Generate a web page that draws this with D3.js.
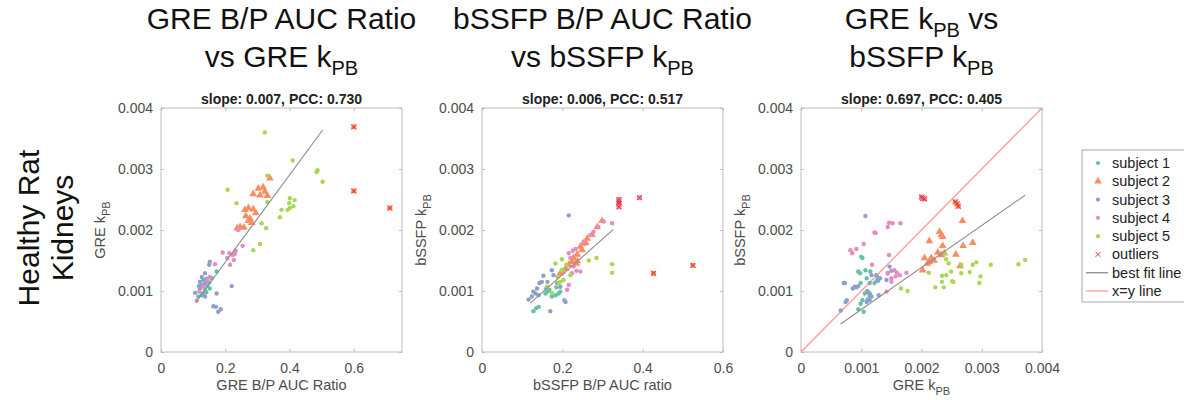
<!DOCTYPE html>
<html>
<head>
<meta charset="utf-8">
<script src="https://cdn.jsdelivr.net/npm/d3@7"></script>
<style>
  body { margin: 0; background: #fff; }
  text { font-family: "Liberation Sans", Arial, Helvetica, sans-serif; }
</style>
</head>
<body>
<svg id="chart" width="1184" height="400"></svg>
<script>
// ---- data ----
const subjectNames = ["subject 1", "subject 2", "subject 3", "subject 4", "subject 5"];
const subjectColors = ["#66c2a5", "#fc8d62", "#8da0cb", "#e78ac3", "#a6d854"];

// panel 1: GRE B/P AUC ratio vs GRE kPB
const greRatioS1 = [[0.173,0.00132],[0.158,0.00121],[0.150,0.00114],[0.144,0.00108],[0.137,0.00102],[0.127,0.00093],[0.116,0.00091],[0.141,0.00098],[0.152,0.00104]];
const greRatioS2 = [[0.339,0.00285],[0.303,0.00268],[0.318,0.00270],[0.323,0.00263],[0.287,0.00259],[0.308,0.00257],[0.331,0.00256],[0.261,0.00233],[0.272,0.00236],[0.287,0.00234],[0.295,0.00228],[0.264,0.00223],[0.277,0.00219],[0.272,0.00215],[0.282,0.00212],[0.246,0.00205],[0.237,0.00203],[0.258,0.00204]];
const greRatioS3 = [[0.152,0.00148],[0.150,0.00143],[0.137,0.00129],[0.127,0.00123],[0.132,0.00118],[0.121,0.00115],[0.137,0.00113],[0.127,0.00110],[0.121,0.00104],[0.106,0.00097],[0.130,0.00096],[0.137,0.00091],[0.173,0.00096],[0.220,0.00108],[0.163,0.00075],[0.171,0.00074],[0.186,0.00070],[0.178,0.00066],[0.142,0.00120],[0.118,0.00108]];
const greRatioS4 = [[0.240,0.00200],[0.254,0.00174],[0.192,0.00163],[0.213,0.00162],[0.223,0.00159],[0.230,0.00161],[0.206,0.00154],[0.227,0.00151],[0.215,0.00143],[0.168,0.00144],[0.152,0.00123],[0.144,0.00118],[0.119,0.00099],[0.111,0.00084],[0.132,0.00107],[0.232,0.00166]];
const greRatioS5 = [[0.323,0.00360],[0.410,0.00314],[0.331,0.00289],[0.484,0.00295],[0.487,0.00298],[0.503,0.00279],[0.207,0.00266],[0.235,0.00244],[0.401,0.00252],[0.416,0.00249],[0.399,0.00244],[0.412,0.00239],[0.401,0.00236],[0.394,0.00233],[0.375,0.00233],[0.370,0.00221],[0.331,0.00246],[0.313,0.00211],[0.327,0.00203],[0.308,0.00177],[0.287,0.00167]];
const greRatioOutliers = [[0.600,0.00369,1],[0.600,0.00264,1],[0.712,0.00236,1]];
const greRatioFit = [[0.109,0.00082],[0.503,0.00364]];

// panel 2: bSSFP B/P AUC ratio vs bSSFP kPB
const ssfpRatioS1 = [[0.128,0.00067],[0.135,0.00072],[0.141,0.00074],[0.158,0.00096],[0.163,0.00099],[0.168,0.00102],[0.160,0.00104],[0.174,0.00091],[0.183,0.00093],[0.191,0.00096],[0.195,0.00099],[0.185,0.00106]];
const ssfpRatioS2 = [[0.299,0.00215],[0.287,0.00205],[0.274,0.00192],[0.262,0.00186],[0.253,0.00178],[0.245,0.00173],[0.249,0.00167],[0.237,0.00160],[0.228,0.00154],[0.224,0.00148],[0.237,0.00149],[0.216,0.00143],[0.208,0.00137],[0.199,0.00132],[0.258,0.00179],[0.235,0.00145],[0.195,0.00129]];
const ssfpRatioS3 = [[0.216,0.00224],[0.153,0.00125],[0.174,0.00134],[0.178,0.00126],[0.143,0.00113],[0.149,0.00115],[0.137,0.00104],[0.133,0.00096],[0.124,0.00091],[0.116,0.00086],[0.128,0.00099],[0.141,0.00093],[0.170,0.00067],[0.205,0.00085],[0.208,0.00082],[0.187,0.00113],[0.195,0.00107],[0.163,0.00115]];
const ssfpRatioS4 = [[0.324,0.00211],[0.303,0.00214],[0.289,0.00205],[0.278,0.00197],[0.270,0.00192],[0.253,0.00181],[0.233,0.00169],[0.216,0.00162],[0.245,0.00132],[0.224,0.00129],[0.212,0.00102],[0.220,0.00154],[0.228,0.00140],[0.235,0.00133],[0.216,0.00110],[0.226,0.00166]];
const ssfpRatioS5 = [[0.183,0.00145],[0.285,0.00154],[0.266,0.00150],[0.324,0.00144],[0.324,0.00130],[0.210,0.00143],[0.199,0.00152],[0.199,0.00134],[0.188,0.00123],[0.195,0.00115],[0.191,0.00113],[0.203,0.00118],[0.162,0.00107],[0.174,0.00097],[0.220,0.00126]];
const ssfpRatioOutliers = [[0.341,0.00250,3],[0.341,0.00246,3],[0.341,0.00243,3],[0.341,0.00238,3],[0.392,0.00253,3],[0.427,0.00129,1],[0.525,0.00142,1]];
const ssfpRatioFit = [[0.120,0.00080],[0.327,0.00201]];

// panel 3: GRE kPB vs bSSFP kPB
const kpbS1 = [[0.00100,0.00156],[0.00102,0.00154],[0.00095,0.00132],[0.00107,0.00134],[0.00115,0.00132],[0.00109,0.00121],[0.00098,0.00129],[0.00099,0.00113],[0.00106,0.00096],[0.00110,0.00100],[0.00113,0.00097],[0.00114,0.00092],[0.00102,0.00085],[0.00099,0.00079],[0.00095,0.00070],[0.00104,0.00066],[0.00122,0.00113],[0.00126,0.00117],[0.00128,0.00121]];
const kpbS2 = [[0.00268,0.00215],[0.00230,0.00197],[0.00233,0.00192],[0.00235,0.00189],[0.00285,0.00179],[0.00213,0.00182],[0.00235,0.00174],[0.00269,0.00174],[0.00227,0.00163],[0.00233,0.00159],[0.00238,0.00162],[0.00257,0.00160],[0.00216,0.00154],[0.00221,0.00150],[0.00213,0.00148],[0.00205,0.00154],[0.00202,0.00134],[0.00210,0.00145],[0.00264,0.00141]];
const kpbS3 = [[0.00073,0.00113],[0.00076,0.00085],[0.00074,0.00082],[0.00066,0.00068],[0.00089,0.00107],[0.00092,0.00106],[0.00095,0.00108],[0.00086,0.00104],[0.00114,0.00113],[0.00117,0.00126],[0.00125,0.00126],[0.00131,0.00121],[0.00128,0.00117],[0.00110,0.00099],[0.00114,0.00096],[0.00117,0.00091],[0.00111,0.00086],[0.00114,0.00085],[0.00109,0.00082],[0.00129,0.00093],[0.00142,0.00118],[0.00144,0.00129],[0.00150,0.00133],[0.00147,0.00140],[0.00107,0.00223],[0.00071,0.00113]];
const kpbS4 = [[0.00082,0.00167],[0.00085,0.00162],[0.00092,0.00169],[0.00104,0.00177],[0.00146,0.00212],[0.00152,0.00211],[0.00165,0.00211],[0.00144,0.00205],[0.00122,0.00196],[0.00124,0.00195],[0.00146,0.00159],[0.00118,0.00143],[0.00144,0.00129],[0.00155,0.00134],[0.00159,0.00130],[0.00164,0.00126],[0.00175,0.00130],[0.00150,0.00121],[0.00157,0.00124],[0.00150,0.00115],[0.00142,0.00099]];
const kpbS5 = [[0.00238,0.00162],[0.00241,0.00152],[0.00212,0.00130],[0.00245,0.00145],[0.00234,0.00125],[0.00241,0.00126],[0.00249,0.00132],[0.00234,0.00115],[0.00251,0.00116],[0.00253,0.00115],[0.00223,0.00106],[0.00237,0.00106],[0.00266,0.00143],[0.00266,0.00129],[0.00280,0.00131],[0.00285,0.00143],[0.00291,0.00147],[0.00298,0.00124],[0.00296,0.00113],[0.00315,0.00143],[0.00361,0.00144],[0.00372,0.00151],[0.00166,0.00104],[0.00177,0.00100]];
const kpbOutliers = [[0.00200,0.00254,3],[0.00202,0.00252,3],[0.00205,0.00251,3],[0.00256,0.00246,1],[0.00259,0.00243,1],[0.00261,0.00239,1]];
const kpbFit = [[0.000656,0.00046],[0.00372,0.00257]];
const identityLine = [[0,0],[0.004,0.004]];

const ratioTicks = [0, 0.2, 0.4, 0.6];
const ratioTickLabels = ["0", "0.2", "0.4", "0.6"];
const kpbTicks = [0, 0.001, 0.002, 0.003, 0.004];
const kpbTickLabels = ["0", "0.001", "0.002", "0.003", "0.004"];
const subtitles = ["slope: 0.007, PCC: 0.730", "slope: 0.006, PCC: 0.517", "slope: 0.697, PCC: 0.405"];
const legendLabels = ["subject 1", "subject 2", "subject 3", "subject 4", "subject 5", "outliers", "best fit line", "x=y line"];

// ---- layout ----
const svg = d3.select("#chart");
const boxW = 241, boxH = 244, boxTop = 108;
const tickColor = "#4d4d4d";
const fitColor = "#8c8c8c", idColor = "#ff9a9a", outlierColor = "#f0302a";

const panels = [
  { left: 161, xMax: 0.75, xTicks: ratioTicks, xLabels: ratioTickLabels,
    subjects: [greRatioS1, greRatioS2, greRatioS3, greRatioS4, greRatioS5],
    outliers: greRatioOutliers, fit: greRatioFit, identity: null,
    title: [[["GRE B/P AUC Ratio", false]], [["vs GRE k", false], ["PB", true]]],
    xTitle: [["GRE B/P AUC Ratio", false]], yTitle: [["GRE k", false], ["PB", true]] },
  { left: 482, xMax: 0.6, xTicks: ratioTicks, xLabels: ratioTickLabels,
    subjects: [ssfpRatioS1, ssfpRatioS2, ssfpRatioS3, ssfpRatioS4, ssfpRatioS5],
    outliers: ssfpRatioOutliers, fit: ssfpRatioFit, identity: null,
    title: [[["bSSFP B/P AUC Ratio", false]], [["vs bSSFP k", false], ["PB", true]]],
    xTitle: [["bSSFP B/P AUC ratio", false]], yTitle: [["bSSFP k", false], ["PB", true]] },
  { left: 801, xMax: 0.004, xTicks: kpbTicks, xLabels: kpbTickLabels,
    subjects: [kpbS1, kpbS2, kpbS3, kpbS4, kpbS5],
    outliers: kpbOutliers, fit: kpbFit, identity: identityLine,
    title: [[["GRE k", false], ["PB", true], [" vs", false]], [["bSSFP k", false], ["PB", true]]],
    xTitle: [["GRE k", false], ["PB", true]], yTitle: [["bSSFP k", false], ["PB", true]] }
];

// writes text with subscript parts
function richText(sel, parts, subSize, subShift) {
  let down = false;
  parts.forEach(([str, sub]) => {
    const t = sel.append("tspan").text(str);
    if (sub && !down) { t.attr("dy", subShift).attr("font-size", subSize); down = true; }
    else if (!sub && down) { t.attr("dy", -subShift); down = false; }
  });
}

const tri = d3.symbol().type(d3.symbolTriangle).size(26);

panels.forEach((p, i) => {
  const x = d3.scaleLinear().domain([0, p.xMax]).range([0, boxW]);
  const y = d3.scaleLinear().domain([0, 0.004]).range([boxH, 0]);
  const g = svg.append("g").attr("transform", `translate(${p.left},${boxTop})`);
  const cx = p.left + boxW / 2;

  // titles
  p.title.forEach((line, li) => {
    const t = svg.append("text").attr("x", cx).attr("y", 29 + li * 38)
      .attr("text-anchor", "middle").attr("font-size", 30).attr("fill", "#111");
    richText(t, line, 20, 8);
  });
  svg.append("text").attr("x", cx).attr("y", 104).attr("text-anchor", "middle")
    .attr("font-size", 14).attr("font-weight", "bold").attr("fill", "#222").text(subtitles[i]);

  // axes (MATLAB-like inward ticks on all sides)
  const ax = (gen, tr) => {
    const a = g.append("g").attr("transform", tr).call(gen);
    a.select(".domain").remove();
    a.selectAll("line").attr("stroke", "#bdbdbd");
    a.selectAll("text").attr("fill", tickColor).attr("font-size", 14)
      .attr("font-family", "'Liberation Sans', Arial, sans-serif");
    return a;
  };
  ax(d3.axisBottom(x).tickValues(p.xTicks).tickFormat((d, k) => p.xLabels[k])
      .tickSizeInner(-3).tickSizeOuter(0).tickPadding(11), `translate(0,${boxH})`);
  ax(d3.axisTop(x).tickValues(p.xTicks).tickFormat("").tickSizeInner(-3).tickSizeOuter(0), "translate(0,0)");
  ax(d3.axisLeft(y).tickValues(kpbTicks).tickFormat((d, k) => kpbTickLabels[k])
      .tickSizeInner(-3).tickSizeOuter(0).tickPadding(8), "translate(0,0)");
  ax(d3.axisRight(y).tickValues(kpbTicks).tickFormat("").tickSizeInner(-3).tickSizeOuter(0), `translate(${boxW},0)`);

  g.append("rect").attr("width", boxW).attr("height", boxH)
    .attr("fill", "none").attr("stroke", "#bdbdbd").attr("stroke-width", 1);

  // axis titles
  const xt = svg.append("text").attr("x", cx).attr("y", 390).attr("text-anchor", "middle")
    .attr("font-size", 14.5).attr("fill", tickColor);
  richText(xt, p.xTitle, 11, 5);
  const yt = svg.append("text").attr("transform", `translate(${p.left - 56},${boxTop + boxH / 2}) rotate(-90)`)
    .attr("text-anchor", "middle").attr("font-size", 14.5).attr("fill", tickColor);
  richText(yt, p.yTitle, 11, 5);

  const line = d3.line().x(d => x(d[0])).y(d => y(d[1]));
  if (p.identity) {
    g.append("path").datum(p.identity).attr("d", line).attr("fill", "none")
      .attr("stroke", idColor).attr("stroke-width", 1.3);
  }

  // points
  p.subjects.forEach((pts, s) => {
    const layer = g.append("g").attr("fill", subjectColors[s]);
    if (s === 1) {
      layer.selectAll("path").data(pts).join("path")
        .attr("transform", d => `translate(${x(d[0])},${y(d[1])})`).attr("d", tri);
    } else {
      layer.selectAll("circle").data(pts).join("circle")
        .attr("cx", d => x(d[0])).attr("cy", d => y(d[1])).attr("r", 2.2);
    }
  });

  g.append("path").datum(p.fit).attr("d", line).attr("fill", "none")
    .attr("stroke", fitColor).attr("stroke-width", 1.1);

  // outliers: subject marker with a red cross over it
  const og = g.append("g");
  og.selectAll("rect").data(p.outliers).join("rect")
    .attr("x", d => x(d[0]) - 2.5).attr("y", d => y(d[1]) - 2.5)
    .attr("width", 5).attr("height", 5).attr("fill", d => subjectColors[d[2]]);
  og.selectAll("path").data(p.outliers).join("path")
    .attr("d", d => {
      const px = x(d[0]), py = y(d[1]), r = 2.5;
      return `M${px - r},${py - r}L${px + r},${py + r}M${px - r},${py + r}L${px + r},${py - r}`;
    })
    .attr("stroke", outlierColor).attr("stroke-width", 1).attr("fill", "none");
});

// row label
const rowLabel = svg.append("g").attr("transform", "translate(0,228) rotate(-90)");
rowLabel.append("text").attr("x", 0).attr("y", 39).attr("text-anchor", "middle")
  .attr("font-size", 30).attr("fill", "#111").text("Healthy Rat");
rowLabel.append("text").attr("x", 0).attr("y", 73).attr("text-anchor", "middle")
  .attr("font-size", 30).attr("fill", "#111").text("Kidneys");

// legend
const lg = svg.append("g").attr("transform", "translate(1082,150)");
lg.append("rect").attr("width", 110).attr("height", 152)
  .attr("fill", "#fff").attr("stroke", "#a8a8a8").attr("stroke-width", 1);
const rowY = d3.scalePoint().domain(legendLabels).range([13, 141]);
legendLabels.forEach((lab, k) => {
  const yy = rowY(lab);
  const mx = 16;
  if (k < 5) {
    if (k === 1) lg.append("path").attr("transform", `translate(${mx},${yy})`).attr("d", tri).attr("fill", subjectColors[k]);
    else lg.append("circle").attr("cx", mx).attr("cy", yy).attr("r", 2.1).attr("fill", subjectColors[k]);
  } else if (k === 5) {
    lg.append("path").attr("d", `M${mx - 2.5},${yy - 2.5}L${mx + 2.5},${yy + 2.5}M${mx - 2.5},${yy + 2.5}L${mx + 2.5},${yy - 2.5}`)
      .attr("stroke", outlierColor).attr("stroke-width", 1);
  } else {
    lg.append("line").attr("x1", 4).attr("x2", 26).attr("y1", yy).attr("y2", yy)
      .attr("stroke", k === 6 ? fitColor : idColor).attr("stroke-width", 1.3);
  }
  lg.append("text").attr("x", 30).attr("y", yy + 5).attr("font-size", 14.5)
    .attr("fill", "#222").text(lab);
});
</script>
</body>
</html>
